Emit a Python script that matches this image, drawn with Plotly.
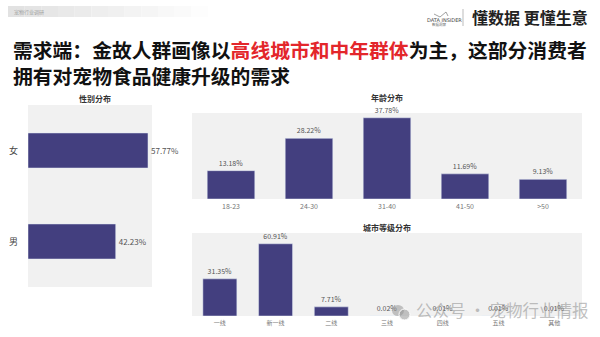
import plotly.graph_objects as go

# ---------------- data ----------------
gender_cats = ["男", "女"]
gender_vals = [42.23, 57.77]

age_cats = ["18-23", "24-30", "31-40", "41-50", ">50"]
age_vals = [13.18, 28.22, 37.78, 11.69, 9.13]

city_cats = ["一线", "新一线", "二线", "三线", "四线", "五线", "其他"]
city_vals = [31.35, 60.91, 7.71, 0.02, 0.01, 0.01, 0.01]

W, H = 600, 337
BAR = "#433F7F"
BG = "#F1F1F1"
FONT = "Noto Sans CJK SC"

def px(x):
    return x / W

def py(y):
    return 1 - y / H

fig = go.Figure()

fig.add_trace(go.Bar(
    x=gender_vals, y=gender_cats, orientation="h", marker_color=BAR,
    width=0.385, text=[f"{v:.2f}%" for v in gender_vals], textposition="outside",
    textfont=dict(size=8, color="#555", family=FONT), cliponaxis=False,
    xaxis="x", yaxis="y", hoverinfo="skip"))

fig.add_trace(go.Bar(
    x=age_cats, y=age_vals, marker_color=BAR, width=0.61,
    text=[f"{v:.2f}%" for v in age_vals], textposition="outside",
    textfont=dict(size=7, color="#555", family=FONT), cliponaxis=False,
    xaxis="x2", yaxis="y2", hoverinfo="skip"))

fig.add_trace(go.Bar(
    x=city_cats, y=city_vals, marker_color=BAR, width=0.61,
    text=[f"{v:.2f}%" for v in city_vals], textposition="outside",
    textfont=dict(size=7, color="#555", family=FONT), cliponaxis=False,
    xaxis="x3", yaxis="y3", hoverinfo="skip"))

tick = dict(size=7, color="#777", family=FONT)
fig.update_layout(
    width=W, height=H, margin=dict(l=0, r=0, t=0, b=0),
    paper_bgcolor="white", showlegend=False, font=dict(family=FONT),
    xaxis=dict(domain=[px(28), px(152)], range=[0, 59.7], visible=False, anchor="y"),
    yaxis=dict(domain=[py(287), py(105)], range=[-0.5, 1.5], anchor="x",
               showgrid=False, zeroline=False, showline=False, ticks="",
               tickfont=dict(size=9, color="#444", family=FONT), ticklabelstandoff=9),
    xaxis2=dict(domain=[px(192), px(582)], anchor="y2", showgrid=False, zeroline=False,
                showline=False, ticks="", tickfont=tick, ticklabelstandoff=2),
    yaxis2=dict(domain=[py(199), py(113)], range=[0, 40], anchor="x2", visible=False),
    xaxis3=dict(domain=[px(192), px(582)], anchor="y3", showgrid=False, zeroline=False,
                showline=False, ticks="", tickfont=dict(size=6, color="#777", family=FONT),
                ticklabelstandoff=2),
    yaxis3=dict(domain=[py(316), py(233)], range=[0, 70], anchor="x3", visible=False),
    plot_bgcolor=BG,
)

shapes = []
# top-left banner (fading)
steps = 12
for i in range(steps):
    x0 = 8 + i * (200 / steps)
    x1 = 8 + (i + 1) * (200 / steps)
    c = int(226 + (253 - 226) * i / (steps - 1))
    shapes.append(dict(type="rect", xref="paper", yref="paper",
                       x0=px(x0), x1=px(x1), y0=py(17), y1=py(6),
                       fillcolor=f"rgb({c},{c},{c})", line=dict(width=0), layer="below"))
# divider near logo
shapes.append(dict(type="line", xref="paper", yref="paper", x0=px(463), x1=px(463),
                   y0=py(26), y1=py(9), line=dict(color="#BBBBBB", width=1)))
# logo glyph
shapes.append(dict(type="path", xref="paper", yref="paper",
                   path=f"M {px(434)},{py(14)} L {px(440)},{py(17)} L {px(446)},{py(12)} L {px(448)},{py(16)}",
                   line=dict(color="#888", width=0.8)))
# watermark icon
shapes.append(dict(type="circle", xref="paper", yref="paper",
                   x0=px(392), x1=px(404), y0=py(316), y1=py(305),
                   fillcolor="rgba(150,150,150,0.55)", line=dict(width=0)))
shapes.append(dict(type="circle", xref="paper", yref="paper",
                   x0=px(399), x1=px(410), y0=py(320), y1=py(309),
                   fillcolor="rgba(150,150,150,0.55)", line=dict(color="white", width=1)))
fig.update_layout(shapes=shapes)

ann = []
ann.append(dict(text="宠物行业调研", x=px(12), y=py(11.5), xref="paper", yref="paper",
                xanchor="left", yanchor="middle", showarrow=False,
                font=dict(size=5, color="#A0A0A0", family=FONT)))
ann.append(dict(text="DATA INSIDER", x=px(444), y=py(20), xref="paper", yref="paper",
                xanchor="center", yanchor="middle", showarrow=False,
                font=dict(size=5, color="#444", family="DejaVu Sans")))
ann.append(dict(text="数据洞察", x=px(439), y=py(24.5), xref="paper", yref="paper",
                xanchor="center", yanchor="middle", showarrow=False,
                font=dict(size=3.5, color="#666", family=FONT)))
ann.append(dict(text="懂数据 更懂生意", x=px(470), y=py(17), xref="paper", yref="paper",
                xanchor="left", yanchor="middle", showarrow=False,
                font=dict(size=16, color="#222", family=FONT, weight="bold")))
ann.append(dict(
    text="需求端：金故人群画像以<span style='color:#E3262B'>高线城市和中年群体</span>为主，这部分消费者<br>拥有对宠物食品健康升级的需求",
    x=px(11), y=py(33), xref="paper", yref="paper", xanchor="left", yanchor="top",
    align="left", showarrow=False,
    font=dict(size=19.8, color="#111", family=FONT, weight="bold")))
for t, x, y in [("性别分布", 95, 98), ("年龄分布", 387, 97), ("城市等级分布", 387, 227)]:
    ann.append(dict(text=t, x=px(x), y=py(y), xref="paper", yref="paper",
                    xanchor="center", yanchor="middle", showarrow=False,
                    font=dict(size=8, color="#333", family=FONT, weight="bold")))
ann.append(dict(text="公众号 · 宠物行业情报", x=px(414), y=py(310), xref="paper", yref="paper",
                xanchor="left", yanchor="middle", showarrow=False,
                font=dict(size=16.5, color="rgba(140,140,140,0.55)", family=FONT)))
fig.update_layout(annotations=ann)

fig.write_html("out.html")
